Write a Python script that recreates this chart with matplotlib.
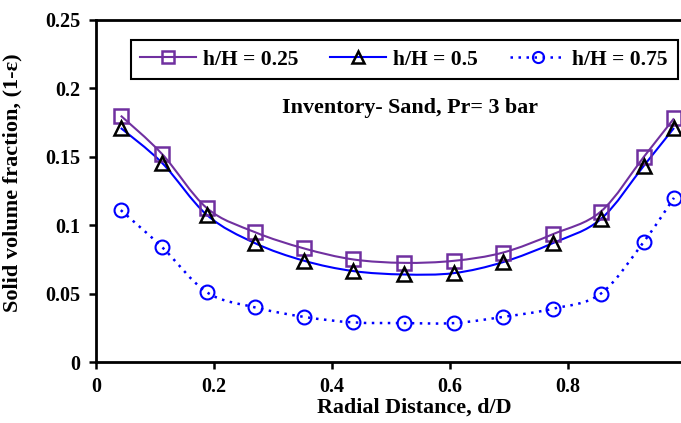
import numpy as np
import matplotlib.pyplot as plt
from matplotlib.path import Path
from matplotlib.patches import PathPatch
from matplotlib.lines import Line2D

plt.rcParams['font.family'] = ['Liberation Serif', 'DejaVu Serif']
plt.rcParams['font.weight'] = 'bold'

# radial positions and solid volume fraction at three heights
d_D = [0.042, 0.112, 0.188, 0.269, 0.353, 0.436, 0.522, 0.607, 0.690, 0.775, 0.856, 0.929, 0.980]
h025 = [0.180, 0.152, 0.1125, 0.095, 0.083, 0.075, 0.0725, 0.074, 0.080, 0.0935, 0.110, 0.150, 0.178]
h050 = [0.171, 0.1455, 0.1075, 0.087, 0.074, 0.0665, 0.064, 0.065, 0.073, 0.087, 0.1045, 0.1435, 0.171]
h075 = [0.111, 0.084, 0.051, 0.040, 0.033, 0.029, 0.0285, 0.0285, 0.033, 0.039, 0.050, 0.088, 0.120]

purple = '#7030A0'
blue = '#0000FF'


def smooth_path(x, y, t=0.5 / 3):
    # Excel-style smoothed line: cubic Bezier through every point
    x = np.asarray(x, float)
    y = np.asarray(y, float)
    n = len(x)
    verts = [(x[0], y[0])]
    codes = [Path.MOVETO]
    for i in range(n - 1):
        x0, y0 = (x[i - 1], y[i - 1]) if i > 0 else (x[i], y[i])
        x3, y3 = (x[i + 2], y[i + 2]) if i + 2 < n else (x[i + 1], y[i + 1])
        c1 = (x[i] + (x[i + 1] - x0) * t, y[i] + (y[i + 1] - y0) * t)
        c2 = (x[i + 1] - (x3 - x[i]) * t, y[i + 1] - (y3 - y[i]) * t)
        verts += [c1, c2, (x[i + 1], y[i + 1])]
        codes += [Path.CURVE4] * 3
    return Path(verts, codes)


fig = plt.figure(figsize=(6.81, 4.23), dpi=100)
ax = fig.add_axes([0.141, 0.144, 0.866, 0.809])

dots = (0, (1, 2.2))
ax.add_patch(PathPatch(smooth_path(d_D, h025), fill=False, ec=purple, lw=1.5, zorder=2))
ax.add_patch(PathPatch(smooth_path(d_D, h050), fill=False, ec=blue, lw=1.5, zorder=2))
ax.add_patch(PathPatch(smooth_path(d_D, h075), fill=False, ec=blue, lw=1.8, ls=dots, zorder=2))

ax.plot(d_D, h025, ls='none', marker='s', ms=10, mfc='none', mec=purple, mew=1.8, zorder=3)
ax.plot(d_D, h050, ls='none', marker='^', ms=10, mfc='none', mec='black', mew=1.8, zorder=3)
ax.plot(d_D, h075, ls='none', marker='o', ms=10, mfc='none', mec=blue, mew=1.5, zorder=3)

handles = [
    Line2D([], [], color=purple, lw=1.5, marker='s', ms=8, mfc='none', mec=purple, mew=1.8),
    Line2D([], [], color=blue, lw=1.5, marker='^', ms=8, mfc='none', mec='black', mew=1.8),
    Line2D([], [], color=blue, lw=1.8, ls=dots, marker='o', ms=8, mfc='none', mec=blue, mew=1.5),
]
leg = ax.legend(handles, ['h/H = 0.25', 'h/H = 0.5', 'h/H = 0.75'], ncol=3,
                loc='upper right', bbox_to_anchor=(0.986, 0.9415), frameon=True,
                fancybox=False, edgecolor='black', framealpha=1,
                handlelength=2.6, columnspacing=1.5, handletextpad=0.3,
                borderpad=0.45, borderaxespad=0,
                prop={'weight': 'bold', 'size': 15.5})
leg.get_frame().set_linewidth(1.5)

ax.text(0.532, 0.743, 'Inventory- Sand, Pr= 3 bar', transform=ax.transAxes,
        ha='center', va='center', fontsize=15.8, fontweight='bold')

ax.set_xlim(0, 1)
ax.set_ylim(0, 0.25)
ax.set_xticks([0, 0.2, 0.4, 0.6, 0.8, 1.0])
ax.set_xticklabels(['0', '0.2', '0.4', '0.6', '0.8', '1'])
ax.set_yticks([0, 0.05, 0.1, 0.15, 0.2, 0.25])
ax.set_yticklabels(['0', '0.05', '0.1', '0.15', '0.2', '0.25'])
ax.tick_params(direction='out', width=1.8, length=5, labelsize=14.5, pad=6)
for s in ax.spines.values():
    s.set_linewidth(2)

ax.set_xlabel('Radial Distance, d/D', fontsize=15.8, fontweight='bold')
ax.set_ylabel('Solid volume fraction, (1-\u03b5)', fontsize=16, fontweight='bold')
ax.xaxis.set_label_coords(0.539, -0.105)
ax.yaxis.set_label_coords(-0.125, 0.525)

fig.savefig('out.png', dpi=100)
